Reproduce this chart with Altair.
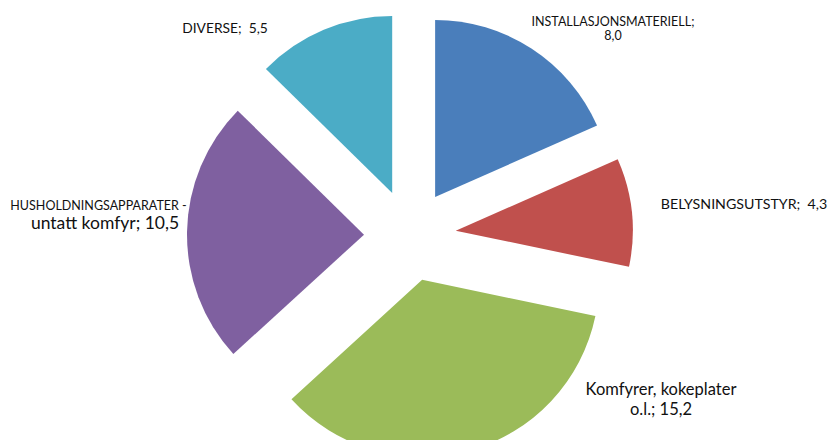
import altair as alt
import pandas as pd

# ---- data ----
categories = [
    "INSTALLASJONSMATERIELL",
    "BELYSNINGSUTSTYR",
    "Komfyrer, kokeplater o.l.",
    "HUSHOLDNINGSAPPARATER - untatt komfyr",
    "DIVERSE",
]
values = [8.0, 4.3, 15.2, 10.5, 5.5]

# ---- style / layout ----
colors = ["#4A7EBB", "#C0504D", "#9BBB59", "#7F60A0", "#4BACC6"]
W, H = 821, 432
CX, CY = 402, 227.5      # pie centre (plot coords)
R = 177                  # slice radius
EXPLODE = 46             # explode distance

# label lines: text, anchor x, baseline y, font size (plot coords)
label_text = [
    "INSTALLASJONSMATERIELL;", "8,0",
    "BELYSNINGSUTSTYR;\u00a0 4,3",
    "Komfyrer, kokeplater", "o.l.; 15,2",
    "HUSHOLDNINGSAPPARATER -", "untatt komfyr; 10,5",
    "DIVERSE;\u00a0 5,5",
]
label_x = [605, 605, 736, 653, 653, 90.5, 97, 217]
label_y = [18, 32, 201, 387, 407, 202, 221, 25]
label_size = [12.5, 12.5, 14.2, 16.5, 16.5, 12.5, 17.5, 13.8]

df = pd.DataFrame({"category": categories, "value": values, "order": list(range(len(values)))})

arcs = (
    alt.Chart(df)
    .transform_window(cum="sum(value)", sort=[alt.SortField("order")])
    .transform_joinaggregate(total="sum(value)")
    .transform_calculate(
        t0="(datum.cum - datum.value) / datum.total * 2 * PI",
        t1="datum.cum / datum.total * 2 * PI",
    )
    .transform_calculate(mid="(datum.t0 + datum.t1) / 2")
    .transform_calculate(
        cx=f"{CX} + {EXPLODE} * sin(datum.mid)",
        cy=f"{CY} - {EXPLODE} * cos(datum.mid)",
    )
    .mark_arc(outerRadius=R, innerRadius=0)
    .encode(
        theta=alt.Theta("t0:Q", scale=None, stack=None),
        theta2="t1:Q",
        x=alt.X("cx:Q", scale=None),
        y=alt.Y("cy:Q", scale=None),
        color=alt.Color("category:N", scale=alt.Scale(domain=categories, range=colors), legend=None),
    )
)

labels_df = pd.DataFrame({"text": label_text, "lx": label_x, "ly": label_y, "fs": label_size})
labels = (
    alt.Chart(labels_df)
    .mark_text(align="center", baseline="alphabetic", font="Lato", color="#111111")
    .encode(
        x=alt.X("lx:Q", scale=None),
        y=alt.Y("ly:Q", scale=None),
        size=alt.Size("fs:Q", scale=None),
        text="text:N",
    )
)

chart = (
    alt.layer(arcs, labels)
    .properties(width=W, height=H, padding=0, autosize=alt.AutoSizeParams(type="none"))
    .configure_view(stroke=None)
)

chart.save("out.html", embed_options={"renderer": "svg", "actions": False})
